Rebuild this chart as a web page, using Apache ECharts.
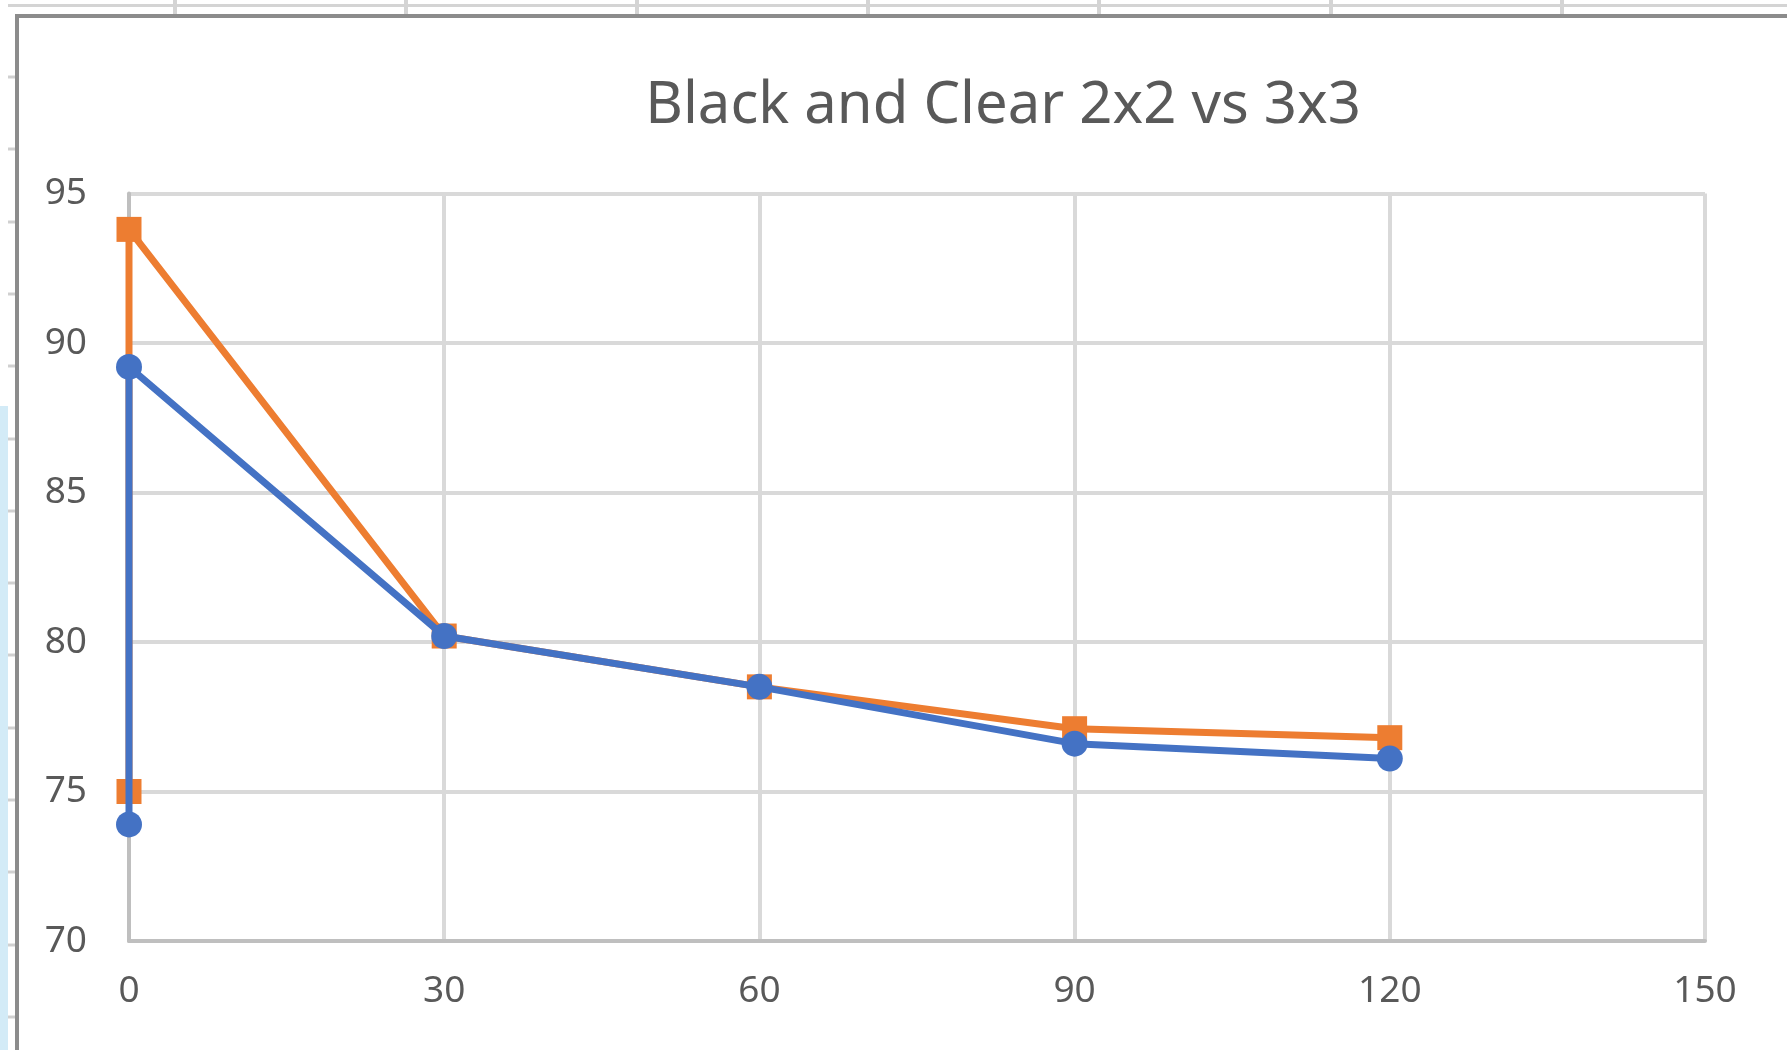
<!DOCTYPE html>
<html>
<head>
<meta charset="utf-8">
<script src="https://cdn.jsdelivr.net/npm/echarts@6/dist/echarts.min.js"></script>
<style>
  html, body { margin: 0; padding: 0; background: #ffffff; }
  #chart { width: 1787px; height: 1050px; }
</style>
</head>
<body>
<div id="chart"></div>
<script>
// ---- Data ----
const chartTitle = "Black and Clear 2x2 vs 3x3";
const xValues = [0, 0, 30, 60, 90, 120];
const orangeValues = [75.0, 93.8, 80.2, 78.5, 77.1, 76.8];
const blueValues = [73.9, 89.2, 80.2, 78.5, 76.6, 76.1];
const xTicks = [0, 30, 60, 90, 120, 150];
const yTicks = [70, 75, 80, 85, 90, 95];

const FONT = "'Noto Sans', 'Open Sans', sans-serif";
const TEXT = '#595959';

function pairs(xs, ys) { return xs.map((x, i) => [x, ys[i]]); }

// Decorative spreadsheet background (not data)
const deco = [];
deco.push({ type: 'line', z: -20, shape: { x1: 8, y1: 5.5, x2: 1787, y2: 5.5 }, style: { stroke: '#D4D4D4', lineWidth: 3 } });
[175, 406, 637, 868, 1099, 1331, 1562].forEach(x => {
  deco.push({ type: 'line', z: -20, shape: { x1: x, y1: 0, x2: x, y2: 15 }, style: { stroke: '#D4D4D4', lineWidth: 4 } });
});
for (let y = 77; y < 1050; y += 72.3) {
  deco.push({ type: 'line', z: -20, shape: { x1: 8, y1: Math.round(y), x2: 15, y2: Math.round(y) }, style: { stroke: '#D0D0D0', lineWidth: 3 } });
}
deco.push({ type: 'rect', z: -20, shape: { x: 0, y: 406, width: 8, height: 700 }, style: { fill: '#D3EBF7' } });
deco.push({ type: 'rect', z: -15, shape: { x: 17, y: 16, width: 1800, height: 1100 }, style: { fill: '#ffffff', stroke: '#8C8C8C', lineWidth: 4 } });

const chart = echarts.init(document.getElementById('chart'), null, { renderer: 'canvas' });
chart.setOption({
  animation: false,
  backgroundColor: '#ffffff',
  graphic: { elements: deco },
  title: {
    text: chartTitle,
    left: 998,
    top: 72,
    textAlign: 'center',
    textStyle: { fontFamily: FONT, fontSize: 58, fontWeight: 'normal', color: TEXT }
  },
  grid: { left: 129, right: 82, top: 193.5, bottom: 109, containLabel: false },
  xAxis: {
    type: 'value', min: 0, max: 150, interval: 30,
    axisLine: { show: true, onZero: false, lineStyle: { color: '#BFBFBF', width: 4 } },
    axisTick: { show: false },
    splitLine: { show: true, lineStyle: { color: '#D9D9D9', width: 4 } },
    axisLabel: { color: TEXT, fontFamily: FONT, fontSize: 37, margin: 32,
      formatter: v => (xTicks.includes(v) ? String(v) : '') }
  },
  yAxis: {
    type: 'value', min: 70, max: 95, interval: 5,
    axisLine: { show: true, onZero: false, lineStyle: { color: '#BFBFBF', width: 4 } },
    axisTick: { show: false },
    splitLine: { show: true, lineStyle: { color: '#D9D9D9', width: 4 } },
    axisLabel: { color: TEXT, fontFamily: FONT, fontSize: 37, margin: 42,
      formatter: v => (yTicks.includes(v) ? String(v) : '') }
  },
  series: [
    {
      name: '3x3', type: 'line', data: pairs(xValues, orangeValues),
      symbol: 'rect', symbolSize: 25, showAllSymbol: true,
      itemStyle: { color: '#ED7D31' },
      lineStyle: { color: '#ED7D31', width: 7, join: 'round' },
      z: 3
    },
    {
      name: '2x2', type: 'line', data: pairs(xValues, blueValues),
      symbol: 'circle', symbolSize: 26, showAllSymbol: true,
      itemStyle: { color: '#4472C4' },
      lineStyle: { color: '#4472C4', width: 7, join: 'round' },
      z: 4
    }
  ]
});
</script>
</body>
</html>
